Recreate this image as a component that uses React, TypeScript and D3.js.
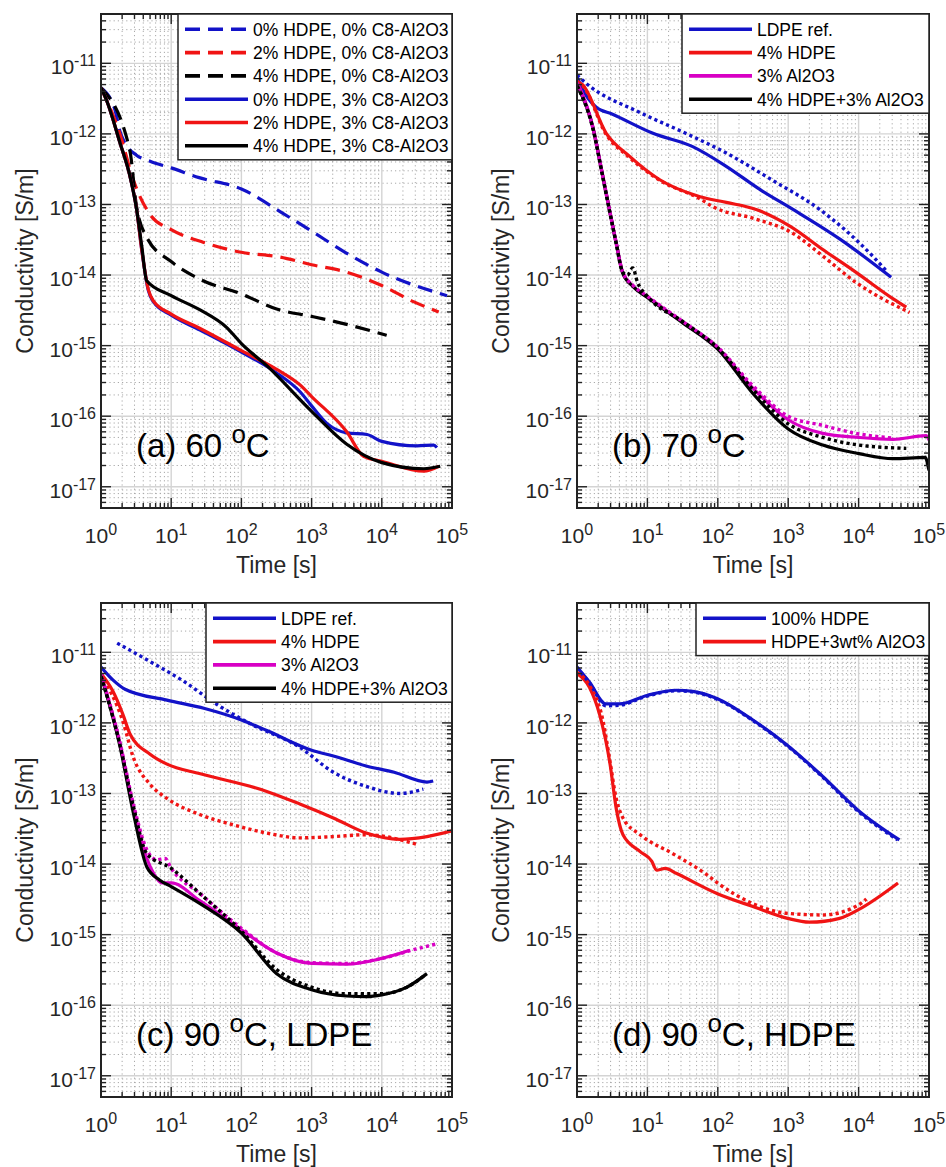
import React from 'react';
import * as d3 from 'd3';

type Pt = [number, number];

// ---------- Tick labels ----------
const xTickExponents = [0, 1, 2, 3, 4, 5];
const yTickExponents = [-17, -16, -15, -14, -13, -12, -11];

// ---------- Panel (a) 60 °C ----------
const a_0HDPE_0C8: Pt[] = [[1, 4.5e-12], [1.58, 2.2e-12], [1.87, 1.07e-12], [2.2, 7.4e-13], [3.2, 5.0e-13], [5, 4.1e-13], [10, 3.3e-13], [25, 2.4e-13], [100, 1.66e-13], [380, 7.6e-14], [1000, 4.2e-14], [3000, 2.1e-14], [10000, 1.1e-14], [85000, 5.1e-15]];
const a_2HDPE_0C8: Pt[] = [[1, 4.5e-12], [1.86, 1.0e-12], [2.9, 2.2e-13], [5, 7.2e-14], [10, 4.4e-14], [29, 2.9e-14], [100, 2.1e-14], [355, 1.8e-14], [1000, 1.4e-14], [3160, 1.1e-14], [10000, 7.1e-15], [28200, 4.2e-15], [64600, 3.0e-15]];
const a_4HDPE_0C8: Pt[] = [[1, 4.5e-12], [2.57, 5.9e-13], [3.2, 9.5e-14], [4.5, 3.4e-14], [10, 1.55e-14], [25.8, 8.7e-15], [100, 5.4e-15], [318, 3.3e-15], [1000, 2.6e-15], [3170, 2.0e-15], [11750, 1.4e-15]];
const a_0HDPE_3C8: Pt[] = [[1, 4.5e-12], [1.2, 3.0e-12], [1.87, 7.4e-13], [2.59, 2.5e-13], [3.22, 8.5e-14], [3.8, 2.3e-14], [4.73, 6.0e-15], [5.57, 4.2e-15], [10, 2.7e-15], [25.8, 1.66e-15], [100, 8.1e-16], [318, 4.1e-16], [690, 2.2e-16], [1000, 1.4e-16], [1650, 7.9e-17], [3170, 5.8e-17], [6150, 5.5e-17], [10000, 4.4e-17], [31700, 3.8e-17], [54800, 3.9e-17], [61000, 3.6e-17]];
const a_2HDPE_3C8: Pt[] = [[1, 4.5e-12], [1.2, 3.0e-12], [1.87, 7.4e-13], [2.59, 2.5e-13], [3.22, 8.5e-14], [3.8, 2.3e-14], [4.73, 6.2e-15], [5.57, 4.3e-15], [10, 2.8e-15], [25.8, 1.75e-15], [100, 8.5e-16], [318, 4.6e-16], [690, 2.75e-16], [1000, 1.9e-16], [3170, 6.0e-17], [5500, 2.7e-17], [10000, 2.3e-17], [39700, 1.66e-17], [64800, 1.95e-17]];
const a_4HDPE_3C8: Pt[] = [[1, 4.5e-12], [1.2, 3.0e-12], [1.87, 7.4e-13], [2.59, 2.5e-13], [3.22, 8.5e-14], [3.8, 2.6e-14], [4.48, 8.3e-15], [10, 5.1e-15], [25.8, 3.2e-15], [61.9, 1.8e-15], [100, 1.07e-15], [230, 5.2e-16], [1000, 1.17e-16], [3170, 4.0e-17], [10000, 2.2e-17], [39700, 1.8e-17], [68000, 1.95e-17]];

// ---------- Panel (b) 70 °C ----------
const b_LDPE: Pt[] = [[1, 6.5e-12], [1.2, 4.3e-12], [1.86, 2.4e-12], [3.2, 1.9e-12], [12, 1.02e-12], [44, 6.6e-13], [130, 3.5e-13], [400, 1.62e-13], [1170, 8.5e-14], [5500, 3.2e-14], [29000, 9.3e-15]];
const b_LDPE_dot: Pt[] = [[1, 6.8e-12], [1.35, 5.2e-12], [7.9, 2.0e-12], [35, 1.02e-12], [130, 5.4e-13], [600, 2.2e-13], [2800, 8.5e-14], [15800, 1.86e-14], [24700, 1.15e-14]];
const b_HDPE: Pt[] = [[1, 5.6e-12], [1.2, 5.0e-12], [2.6, 1.02e-12], [5.6, 4.8e-13], [15, 2.24e-13], [56, 1.29e-13], [132, 1.07e-13], [350, 8.5e-14], [1070, 4.9e-14], [3100, 2.3e-14], [9100, 1.1e-14], [31000, 4.6e-15], [47600, 3.5e-15]];
const b_HDPE_dot: Pt[] = [[1, 5.4e-12], [1.2, 4.8e-12], [2.6, 9.8e-13], [5.6, 4.6e-13], [15, 2.2e-13], [56, 1.2e-13], [85, 9.3e-14], [350, 6.2e-14], [1070, 4.1e-14], [3100, 1.86e-14], [9100, 7.9e-15], [53000, 2.95e-15]];
const b_Al2O3: Pt[] = [[1, 5.5e-12], [1.67, 1.3e-12], [2.32, 2.6e-13], [2.88, 8.7e-14], [3.58, 3.0e-14], [4.45, 1.1e-14], [6.2, 7.0e-15], [10, 4.9e-15], [31.8, 2.15e-15], [100, 9.1e-16], [315, 2.5e-16], [1000, 8.9e-17], [3100, 5.7e-17], [10100, 5.0e-17], [30800, 4.7e-17], [91000, 5.3e-17], [100000, 4.6e-17]];
const b_Al2O3_dot: Pt[] = [[1, 5.3e-12], [1.67, 1.25e-12], [2.32, 2.5e-13], [2.88, 8.5e-14], [3.58, 2.9e-14], [4.45, 1.1e-14], [6.2, 7.2e-15], [10, 5.0e-15], [31.8, 2.2e-15], [100, 9.5e-16], [315, 2.7e-16], [1000, 1.0e-16], [3100, 7.4e-17], [10100, 5.6e-17], [30800, 4.9e-17]];
const b_both: Pt[] = [[1, 4.9e-12], [1.67, 1.26e-12], [2.32, 2.5e-13], [2.88, 8.5e-14], [3.58, 2.9e-14], [4.45, 1.07e-14], [6.2, 6.9e-15], [10, 4.8e-15], [31.8, 2.1e-15], [100, 8.9e-16], [315, 2.1e-16], [1000, 6.6e-17], [3100, 3.9e-17], [10100, 2.95e-17], [30800, 2.5e-17], [88000, 2.6e-17], [100000, 1.7e-17]];
const b_both_dot: Pt[] = [[1, 4.8e-12], [1.67, 1.22e-12], [2.32, 2.45e-13], [2.88, 8.3e-14], [3.58, 2.9e-14], [4.45, 1.1e-14], [5.2, 1.0e-14], [6.2, 1.26e-14], [7.2, 8.0e-15], [10, 5.0e-15], [31.8, 2.2e-15], [100, 9.3e-16], [315, 2.4e-16], [1000, 7.8e-17], [3100, 5.0e-17], [10100, 3.9e-17], [47600, 3.5e-17]];

// ---------- Panel (c) 90 °C, LDPE ----------
const c_LDPE: Pt[] = [[1, 6.2e-12], [1.5, 4.0e-12], [2.2, 3.0e-12], [8.7, 2.1e-12], [30, 1.6e-12], [100, 1.1e-12], [230, 7.8e-13], [1000, 4.1e-13], [2040, 3.4e-13], [6000, 2.45e-13], [15000, 2.0e-13], [44000, 1.45e-13], [54000, 1.5e-13]];
const c_LDPE_dot: Pt[] = [[1.7, 1.35e-11], [5, 7.4e-12], [15, 3.9e-12], [45, 1.82e-12], [132, 9.8e-13], [680, 4.5e-13], [2040, 2.0e-13], [6000, 1.26e-13], [18000, 1.0e-13], [39000, 1.15e-13]];
const c_HDPE: Pt[] = [[1, 5.0e-12], [1.48, 2.8e-12], [2.05, 1.32e-12], [2.6, 6.9e-13], [5, 3.6e-13], [8.7, 2.6e-13], [26, 1.9e-13], [230, 1.07e-13], [680, 7.1e-14], [2040, 4.5e-14], [6000, 2.75e-14], [18000, 2.24e-14], [44000, 2.45e-14], [100000, 2.95e-14]];
const c_HDPE_dot: Pt[] = [[1, 4.8e-12], [2.05, 1.05e-12], [2.9, 3.2e-13], [5, 1.35e-13], [8.7, 8.5e-14], [26, 5.0e-14], [76, 3.6e-14], [230, 2.75e-14], [680, 2.35e-14], [2040, 2.45e-14], [6000, 2.6e-14], [31600, 1.9e-14]];
const c_Al2O3: Pt[] = [[1, 4.9e-12], [1.87, 5.0e-13], [2.9, 6.0e-14], [4.5, 1.2e-14], [5.6, 7.4e-15], [7.3, 5.4e-15], [10, 5.4e-15], [25.8, 3.0e-15], [100, 1.17e-15], [318, 5.5e-16], [1000, 3.9e-16], [3170, 3.8e-16], [10000, 4.6e-16], [25000, 6.0e-16]];
const c_Al2O3_dot: Pt[] = [[1, 5.0e-12], [1.87, 5.2e-13], [2.9, 7.0e-14], [4.5, 1.6e-14], [6.2, 1.15e-14], [8.2, 1.2e-14], [10, 8.7e-15], [25.8, 3.8e-15], [100, 1.23e-15], [318, 5.5e-16], [1000, 4.0e-16], [3170, 3.9e-16], [10000, 4.6e-16], [31700, 6.3e-16], [61000, 7.4e-16]];
const c_both: Pt[] = [[1, 4.7e-12], [1.87, 4.6e-13], [2.9, 5.2e-14], [4.5, 9.1e-15], [6.9, 5.9e-15], [10, 4.8e-15], [25.8, 2.75e-15], [100, 1.05e-15], [318, 2.8e-16], [1000, 1.66e-16], [3170, 1.35e-16], [6000, 1.32e-16], [10000, 1.4e-16], [22800, 1.8e-16], [44000, 2.8e-16]];
const c_both_dot: Pt[] = [[1, 4.6e-12], [1.87, 4.8e-13], [2.9, 6.5e-14], [4.5, 1.4e-14], [10, 8.7e-15], [25.8, 3.8e-15], [100, 1.12e-15], [318, 3.2e-16], [1000, 1.8e-16], [3170, 1.45e-16], [10000, 1.45e-16], [22800, 1.8e-16], [40000, 2.6e-16]];

// ---------- Panel (d) 90 °C, HDPE ----------
const d_HDPE: Pt[] = [[1, 6.2e-12], [1.5, 3.8e-12], [2.58, 1.86e-12], [4.0, 1.86e-12], [9.9, 2.45e-12], [25.6, 2.9e-12], [44, 2.8e-12], [99, 2.2e-12], [315, 1.1e-12], [980, 4.8e-13], [3100, 1.74e-13], [9800, 5.8e-14], [38000, 2.2e-14]];
const d_HDPE_dot: Pt[] = [[1, 6.0e-12], [1.5, 3.7e-12], [2.58, 1.75e-12], [4.0, 1.78e-12], [9.9, 2.4e-12], [25.6, 2.85e-12], [44, 2.75e-12], [99, 2.15e-12], [315, 1.08e-12], [980, 4.7e-13], [3100, 1.7e-13], [9800, 5.6e-14], [36000, 2.2e-14]];
const d_HDPE_Al2O3: Pt[] = [[1, 5.0e-12], [1.5, 3.2e-12], [2.1, 1.3e-12], [2.95, 2.6e-13], [3.6, 6.2e-14], [4.5, 2.6e-14], [7.9, 1.5e-14], [11.5, 1.1e-14], [13.5, 8.2e-15], [18, 8.7e-15], [25.6, 7.4e-15], [99, 3.8e-15], [315, 2.5e-15], [980, 1.7e-15], [2000, 1.5e-15], [5370, 1.7e-15], [9800, 2.24e-15], [36300, 5.4e-15]];
const d_HDPE_Al2O3_dot: Pt[] = [[1, 5.2e-12], [1.5, 3.4e-12], [2.35, 1.05e-12], [2.95, 2.8e-13], [3.6, 8.5e-14], [4.5, 4.5e-14], [7.9, 2.6e-14], [23, 1.4e-14], [68, 7.2e-15], [99, 5.4e-15], [315, 2.75e-15], [980, 2.0e-15], [3100, 1.9e-15], [9800, 2.6e-15], [12900, 3.2e-15]];

// ---------- Legend labels ----------
const legendA = ['0% HDPE, 0% C8-Al2O3', '2% HDPE, 0% C8-Al2O3', '4% HDPE, 0% C8-Al2O3', '0% HDPE, 3% C8-Al2O3', '2% HDPE, 3% C8-Al2O3', '4% HDPE, 3% C8-Al2O3'];
const legendBC = ['LDPE ref.', '4% HDPE', '3% Al2O3', '4% HDPE+3% Al2O3'];
const legendD = ['100% HDPE', 'HDPE+3wt% Al2O3'];

const BLUE = '#1212c8';
const RED = '#f01414';
const MAG = '#d800c4';
const BLK = '#000000';
const FONT = 'Liberation Sans, Arial, Helvetica, sans-serif';

type Style = 'solid' | 'dash' | 'dot';
interface Series { data: Pt[]; color: string; style: Style; }
interface LegendItem { label: string; color: string; style: Style; }
interface PanelSpec {
  id: string;
  x0: number; x1: number; y0: number; y1: number;
  series: Series[];
  legendX: number;
  legend: LegendItem[];
  labelMain: string;
  labelTail: string;
}

const panels: PanelSpec[] = [
  {
    id: 'a', x0: 101, x1: 452, y0: 14, y1: 508,
    series: [
      { data: a_0HDPE_0C8, color: BLUE, style: 'dash' },
      { data: a_2HDPE_0C8, color: RED, style: 'dash' },
      { data: a_4HDPE_0C8, color: BLK, style: 'dash' },
      { data: a_0HDPE_3C8, color: BLUE, style: 'solid' },
      { data: a_2HDPE_3C8, color: RED, style: 'solid' },
      { data: a_4HDPE_3C8, color: BLK, style: 'solid' },
    ],
    legendX: 178,
    legend: [
      { label: legendA[0], color: BLUE, style: 'dash' },
      { label: legendA[1], color: RED, style: 'dash' },
      { label: legendA[2], color: BLK, style: 'dash' },
      { label: legendA[3], color: BLUE, style: 'solid' },
      { label: legendA[4], color: RED, style: 'solid' },
      { label: legendA[5], color: BLK, style: 'solid' },
    ],
    labelMain: '(a) 60 ', labelTail: 'C',
  },
  {
    id: 'b', x0: 577, x1: 929, y0: 14, y1: 508,
    series: [
      { data: b_LDPE, color: BLUE, style: 'solid' },
      { data: b_HDPE, color: RED, style: 'solid' },
      { data: b_Al2O3, color: MAG, style: 'solid' },
      { data: b_both, color: BLK, style: 'solid' },
      { data: b_LDPE_dot, color: BLUE, style: 'dot' },
      { data: b_HDPE_dot, color: RED, style: 'dot' },
      { data: b_Al2O3_dot, color: MAG, style: 'dot' },
      { data: b_both_dot, color: BLK, style: 'dot' },
    ],
    legendX: 682,
    legend: [
      { label: legendBC[0], color: BLUE, style: 'solid' },
      { label: legendBC[1], color: RED, style: 'solid' },
      { label: legendBC[2], color: MAG, style: 'solid' },
      { label: legendBC[3], color: BLK, style: 'solid' },
    ],
    labelMain: '(b) 70 ', labelTail: 'C',
  },
  {
    id: 'c', x0: 101, x1: 452, y0: 603, y1: 1097,
    series: [
      { data: c_LDPE, color: BLUE, style: 'solid' },
      { data: c_HDPE, color: RED, style: 'solid' },
      { data: c_Al2O3, color: MAG, style: 'solid' },
      { data: c_both, color: BLK, style: 'solid' },
      { data: c_LDPE_dot, color: BLUE, style: 'dot' },
      { data: c_HDPE_dot, color: RED, style: 'dot' },
      { data: c_Al2O3_dot, color: MAG, style: 'dot' },
      { data: c_both_dot, color: BLK, style: 'dot' },
    ],
    legendX: 206,
    legend: [
      { label: legendBC[0], color: BLUE, style: 'solid' },
      { label: legendBC[1], color: RED, style: 'solid' },
      { label: legendBC[2], color: MAG, style: 'solid' },
      { label: legendBC[3], color: BLK, style: 'solid' },
    ],
    labelMain: '(c) 90 ', labelTail: 'C, LDPE',
  },
  {
    id: 'd', x0: 577, x1: 929, y0: 603, y1: 1097,
    series: [
      { data: d_HDPE, color: BLUE, style: 'solid' },
      { data: d_HDPE_Al2O3, color: RED, style: 'solid' },
      { data: d_HDPE_dot, color: BLUE, style: 'dot' },
      { data: d_HDPE_Al2O3_dot, color: RED, style: 'dot' },
    ],
    legendX: 696,
    legend: [
      { label: legendD[0], color: BLUE, style: 'solid' },
      { label: legendD[1], color: RED, style: 'solid' },
    ],
    labelMain: '(d) 90 ', labelTail: 'C, HDPE',
  },
];

const dashFor = (s: Style) => (s === 'dash' ? '15,8' : s === 'dot' ? '3.2,3.2' : undefined);

const supText = (e: number) => (e < 0 ? '-' + Math.abs(e) : String(e));

function Panel({ p }: { p: PanelSpec }) {
  const x = d3.scaleLog().domain([1, 1e5]).range([p.x0, p.x1]);
  const y = d3.scaleLog().domain([5e-18, 5e-11]).range([p.y1, p.y0]);
  const line = d3.line<Pt>().x((d) => x(d[0])).y((d) => y(d[1])).curve(d3.curveMonotoneX);

  const xMajor = xTickExponents.map((e) => Math.pow(10, e));
  const yMajor = yTickExponents.map((e) => Math.pow(10, e));
  const xMinor: number[] = [];
  for (let n = 0; n < 5; n++) for (let k = 2; k <= 9; k++) xMinor.push(k * Math.pow(10, n));
  const yMinor: number[] = [];
  for (let n = -18; n <= -11; n++)
    for (let k = 2; k <= 9; k++) {
      const v = k * Math.pow(10, n);
      if (v > 5e-18 * 1.001 && v < 5e-11 * 0.999) yMinor.push(v);
    }

  const axisColor = '#222';
  const clipId = 'clip-' + p.id;
  const rowStart = 15.3;
  const rowStep = 23.3;
  const legH = rowStart + rowStep * (p.legend.length - 1) + 14;
  const cy = (p.y0 + p.y1) / 2;

  return (
    <g>
      <defs>
        <clipPath id={clipId}>
          <rect x={p.x0} y={p.y0} width={p.x1 - p.x0} height={p.y1 - p.y0} />
        </clipPath>
      </defs>
      <rect x={p.x0} y={p.y0} width={p.x1 - p.x0} height={p.y1 - p.y0} fill="#fff" />
      {/* minor grid */}
      <g stroke="#a9a9a9" strokeWidth={1} strokeDasharray="1.2,3">
        {xMinor.map((v, i) => (
          <line key={'xm' + i} x1={x(v)} x2={x(v)} y1={p.y0} y2={p.y1} />
        ))}
        {yMinor.map((v, i) => (
          <line key={'ym' + i} x1={p.x0} x2={p.x1} y1={y(v)} y2={y(v)} />
        ))}
      </g>
      {/* major grid */}
      <g stroke="#d4d4d4" strokeWidth={1.4}>
        {xMajor.map((v, i) => (
          <line key={'xM' + i} x1={x(v)} x2={x(v)} y1={p.y0} y2={p.y1} />
        ))}
        {yMajor.map((v, i) => (
          <line key={'yM' + i} x1={p.x0} x2={p.x1} y1={y(v)} y2={y(v)} />
        ))}
      </g>
      {/* data */}
      <g clipPath={`url(#${clipId})`} fill="none">
        {p.series.map((s, i) => (
          <path
            key={'s' + i}
            d={line(s.data) || ''}
            stroke={s.color}
            strokeWidth={s.style === 'dot' ? 3.4 : 3.2}
            strokeDasharray={dashFor(s.style)}
            strokeLinejoin="round"
            strokeLinecap="butt"
          />
        ))}
      </g>
      {/* panel label */}
      <text x={p.x0 + 35} y={p.y0 + 443} fontFamily={FONT} fontSize={33} fill="#000">
        <tspan>{p.labelMain}</tspan>
        <tspan dy={-14} fontSize={26}>o</tspan>
        <tspan dy={14}>{p.labelTail}</tspan>
      </text>
      {/* ticks */}
      <g stroke={axisColor} strokeWidth={1.4}>
        {xMajor.map((v, i) => (
          <g key={'xt' + i}>
            <line x1={x(v)} x2={x(v)} y1={p.y1} y2={p.y1 - 10} />
            <line x1={x(v)} x2={x(v)} y1={p.y0} y2={p.y0 + 10} />
          </g>
        ))}
        {xMinor.map((v, i) => (
          <g key={'xmt' + i}>
            <line x1={x(v)} x2={x(v)} y1={p.y1} y2={p.y1 - 5} />
            <line x1={x(v)} x2={x(v)} y1={p.y0} y2={p.y0 + 5} />
          </g>
        ))}
        {yMajor.map((v, i) => (
          <g key={'yt' + i}>
            <line x1={p.x0} x2={p.x0 + 10} y1={y(v)} y2={y(v)} />
            <line x1={p.x1} x2={p.x1 - 10} y1={y(v)} y2={y(v)} />
          </g>
        ))}
        {yMinor.map((v, i) => (
          <g key={'ymt' + i}>
            <line x1={p.x0} x2={p.x0 + 5} y1={y(v)} y2={y(v)} />
            <line x1={p.x1} x2={p.x1 - 5} y1={y(v)} y2={y(v)} />
          </g>
        ))}
      </g>
      <rect x={p.x0} y={p.y0} width={p.x1 - p.x0} height={p.y1 - p.y0} fill="none" stroke={axisColor} strokeWidth={2} />
      {/* tick labels */}
      <g fontFamily={FONT} fill="#262626">
        {xTickExponents.map((e, i) => (
          <text key={'xl' + i} x={x(Math.pow(10, e))} y={p.y1 + 35} textAnchor="middle" fontSize={21}>
            <tspan>10</tspan>
            <tspan dy={-8} fontSize={16}>{supText(e)}</tspan>
          </text>
        ))}
        {yTickExponents.map((e, i) => (
          <text key={'yl' + i} x={p.x0 - 5} y={y(Math.pow(10, e)) + 11} textAnchor="end" fontSize={21}>
            <tspan>10</tspan>
            <tspan dy={-8} fontSize={16}>{supText(e)}</tspan>
          </text>
        ))}
        <text x={(p.x0 + p.x1) / 2} y={p.y1 + 65} textAnchor="middle" fontSize={23}>Time [s]</text>
        <text transform={`translate(${p.x0 - 68},${cy}) rotate(-90)`} textAnchor="middle" fontSize={23}>Conductivity [S/m]</text>
      </g>
      {/* legend */}
      <g>
        <rect x={p.legendX} y={p.y0} width={p.x1 - p.legendX} height={legH} fill="#fff" stroke={axisColor} strokeWidth={1.5} />
        {p.legend.map((it, i) => {
          const ry = p.y0 + rowStart + rowStep * i;
          return (
            <g key={'lg' + i}>
              <line
                x1={p.legendX + 7}
                x2={p.legendX + 70}
                y1={ry}
                y2={ry}
                stroke={it.color}
                strokeWidth={3.6}
                strokeDasharray={dashFor(it.style)}
              />
              <text x={p.legendX + 75} y={ry + 6.5} fontFamily={FONT} fontSize={17.5} fill="#000">
                {it.label}
              </text>
            </g>
          );
        })}
      </g>
    </g>
  );
}

export default function App() {
  return (
    <svg
      width={946}
      height={1167}
      viewBox="0 0 946 1167"
      style={{ position: 'absolute', left: 0, top: 0, display: 'block', background: '#fff' }}
    >
      <rect x={0} y={0} width={946} height={1167} fill="#fff" />
      {panels.map((p) => (
        <Panel key={p.id} p={p} />
      ))}
    </svg>
  );
}
